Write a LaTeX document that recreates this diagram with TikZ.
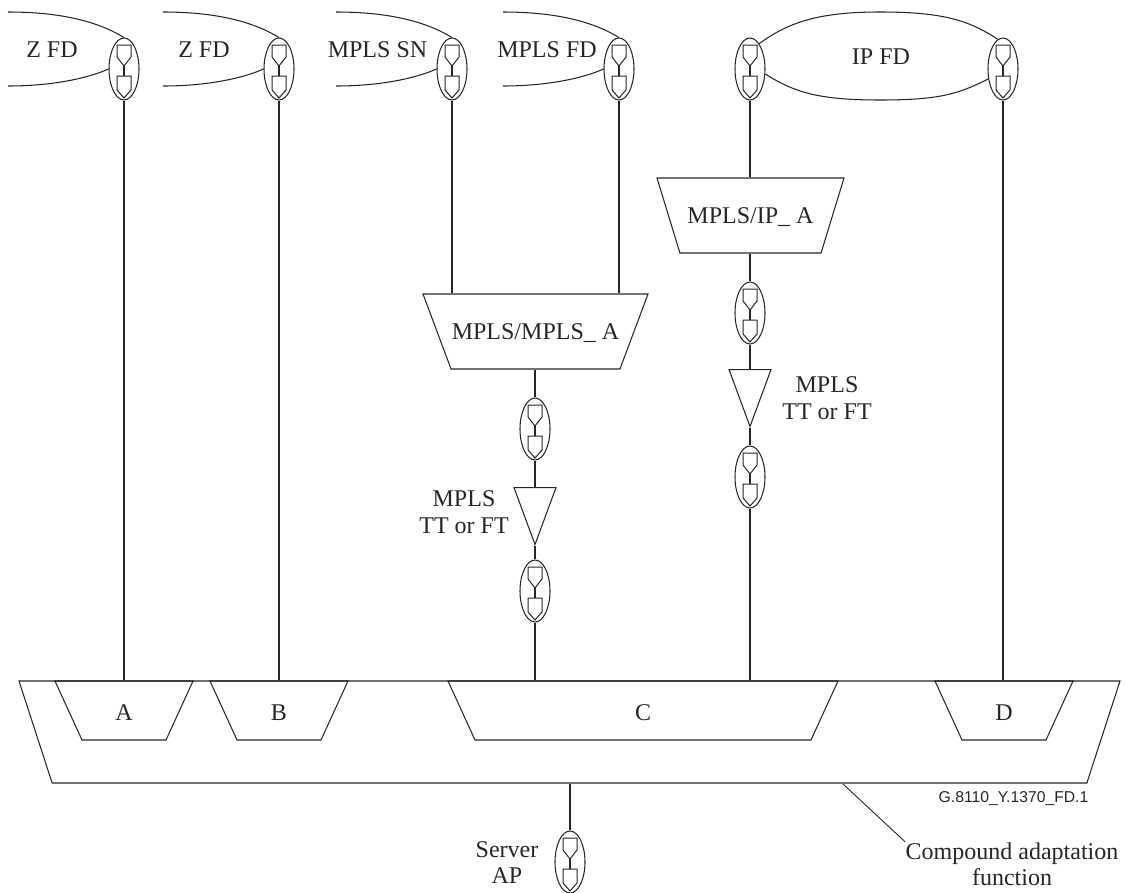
\documentclass[tikz,border=0pt]{standalone}
\usepackage{fontspec}
\setmainfont{Liberation Serif}
\newfontfamily\labelsans{Liberation Sans}
\usetikzlibrary{shapes.geometric}

%% access point symbol: ellipse with two small houses joined by a stem
\newcommand{\apsym}[2]{%
  \node[ap] (#1) at #2 {};
  \draw[aphouse] (#1.center) ++(-7,-24) -- ++(14,0) -- ++(0,12) -- ++(-7,9) -- ++(-7,-9) -- cycle;
  \draw[aphouse] (#1.center) ++(-7,7) -- ++(14,0) -- ++(0,14) -- ++(-7,8) -- ++(-7,-8) -- cycle;
  \draw[apstem] (#1.center) ++(0,-3) -- ++(0,10);
}

\begin{document}
\begin{tikzpicture}[x=1pt, y=-1pt, line width=1.05pt, draw=black!85,
  %% ── Node styles ──────────────────────────────────────────────────────────
  %% block height = text height + 2 * inner ysep
  ap/.style={draw, ellipse, inner sep=0pt, minimum width=30pt, minimum height=62pt},
  aphouse/.style={line width=1pt},
  apstem/.style={line width=1.8pt},
  lbl/.style={font=\fontsize{24}{27}\selectfont, inner sep=0pt, text=black!85},
  adapt/.style={draw, trapezium, shape border rotate=180, trapezium stretches body,
                inner xsep=0pt, font=\fontsize{24}{27}\selectfont, text=black!85,
                text height=15pt, text depth=0pt},
  outerblk/.style={adapt, minimum width=1101pt, inner ysep=43.5pt,
                   trapezium left angle=72, trapezium right angle=72},
  sublk/.style={adapt, text height=19pt, inner ysep=20pt,
                trapezium left angle=65.4, trapezium right angle=65.4},
  termsink/.style={draw, isosceles triangle, shape border rotate=270, isosceles triangle stretches=true,
                   inner sep=0pt, minimum width=42pt, minimum height=57pt, anchor=lower side}
]
\useasboundingbox (0,0) rectangle (1125,892);

%% ── Compound adaptation block ───────────────────────────────────────────────
\node[outerblk] (compound) at (569.5,732) {};
\node[sublk, minimum width=138pt] (blka) at (124,710.5) {A};
\node[sublk, minimum width=138pt] (blkb) at (279,710.5) {B};
\node[sublk, minimum width=390pt] (blkc) at (643,710.5) {C};
\node[sublk, minimum width=138pt] (blkd) at (1004,710.5) {D};

%% ── Upper adaptation functions ──────────────────────────────────────────────
\node[adapt, minimum width=225pt, inner ysep=30pt,
      trapezium left angle=69.5, trapezium right angle=69.5] (mplsmpls) at (535.5,331.5) {MPLS/MPLS\_ A};
\node[adapt, minimum width=187pt, inner ysep=30pt,
      trapezium left angle=73, trapezium right angle=73] (mplsip) at (750.5,215.5) {MPLS/IP\_ A};

%% ── Terminations ────────────────────────────────────────────────────────────
\node[termsink] (ttleft)  at (535,487) {};
\node[termsink] (ttright) at (750,369) {};

%% ── Access points ───────────────────────────────────────────────────────────
\apsym{apza}{(124,69)}
\apsym{apzb}{(279,69)}
\apsym{apsn}{(452,69)}
\apsym{apfd}{(619,69)}
\apsym{apipa}{(750,69)}
\apsym{apipb}{(1003,69)}
\apsym{apleftu}{(535,429)}
\apsym{apleftl}{(535,591)}
\apsym{aprightu}{(750,313)}
\apsym{aprightl}{(750,477)}
\apsym{apserver}{(570,862)}

%% ── Flow domain outlines ────────────────────────────────────────────────────
\coordinate (zatop) at (8,12);      \coordinate (zabot) at (8,86);
\coordinate (zbtop) at (163,12);    \coordinate (zbbot) at (163,86);
\coordinate (sntop) at (336,12);    \coordinate (snbot) at (336,86);
\coordinate (fdtop) at (503,12);    \coordinate (fdbot) at (503,86);
\coordinate (iptop) at (880,12);    \coordinate (ipbot) at (880,100);

\draw (zatop) .. controls +(50,0) and +(-28,-17) .. (apza.north);
\draw (zabot) .. controls +(45,0) and +(-20,9) .. (apza.west);
\draw (zbtop) .. controls +(50,0) and +(-28,-17) .. (apzb.north);
\draw (zbbot) .. controls +(45,0) and +(-20,9) .. (apzb.west);
\draw (sntop) .. controls +(50,0) and +(-28,-17) .. (apsn.north);
\draw (snbot) .. controls +(45,0) and +(-20,9) .. (apsn.west);
\draw (fdtop) .. controls +(50,0) and +(-28,-17) .. (apfd.north);
\draw (fdbot) .. controls +(45,0) and +(-20,9) .. (apfd.west);
\draw (apipa.70) .. controls +(30,-22) and +(-60,0) .. (iptop)
      .. controls +(60,0) and +(-30,-20) .. (apipb.100);
\draw (apipa.-18) .. controls +(30,19) and +(-60,0) .. (ipbot)
      .. controls +(60,0) and +(-30,15) .. (apipb.-146);

%% ── Connectors ──────────────────────────────────────────────────────────────
\draw (apza.south) -- (apza.south |- blka.north);
\draw (apzb.south) -- (apzb.south |- blkb.north);
\draw (apipb.south) -- (apipb.south |- blkd.north);
\draw (apsn.south) -- (apsn.south |- mplsmpls.north);
\draw (apfd.south) -- (apfd.south |- mplsmpls.north);
\draw (apipa.south) -- (apipa.south |- mplsip.north);
\draw (apleftu.north |- mplsmpls.south) -- (apleftu.north);
\draw (apleftu.south) -- (ttleft.lower side);
\draw (ttleft.apex) -- (apleftl.north);
\draw (apleftl.south) -- (apleftl.south |- blkc.north);
\draw (aprightu.north |- mplsip.south) -- (aprightu.north);
\draw (aprightu.south) -- (ttright.lower side);
\draw (ttright.apex) -- (aprightl.north);
\draw (aprightl.south) -- (aprightl.south |- blkc.north);
\draw (apserver.north |- compound.south) -- (apserver.north);

%% ── Labels ──────────────────────────────────────────────────────────────────
\node[lbl, anchor=base] (zafd) at (52,57) {Z FD};
\node[lbl, anchor=base] (zbfd) at (204,57) {Z FD};
\node[lbl, anchor=base] (snlbl) at (377.5,57) {MPLS SN};
\node[lbl, anchor=base] (fdlbl) at (547,57) {MPLS FD};
\node[lbl, anchor=base] (iplbl) at (881,64) {IP FD};
\node[lbl, anchor=base] (ttla) at (464,506) {MPLS};
\node[lbl, anchor=base] (ttlb) at (464,533) {TT or FT};
\node[lbl, anchor=base] (ttra) at (827,392) {MPLS};
\node[lbl, anchor=base] (ttrb) at (827,419) {TT or FT};
\node[lbl, anchor=base] (srva) at (507,857) {Server};
\node[lbl, anchor=base] (srvb) at (507,883) {AP};
\node[lbl, anchor=base] (cmpa) at (1012,859) {Compound adaptation};
\node[lbl, anchor=base] (cmpb) at (1012,885) {function};
\node[font=\labelsans\fontsize{15.7}{18}\selectfont, inner sep=0pt, anchor=base, text=black!85] (figid) at (1013.5,802) {G.8110\_Y.1370\_FD.1};

\coordinate (leader) at (843,784);
\draw[line width=0.9pt] (leader) -- (cmpa.north west);

\end{tikzpicture}
\end{document}
